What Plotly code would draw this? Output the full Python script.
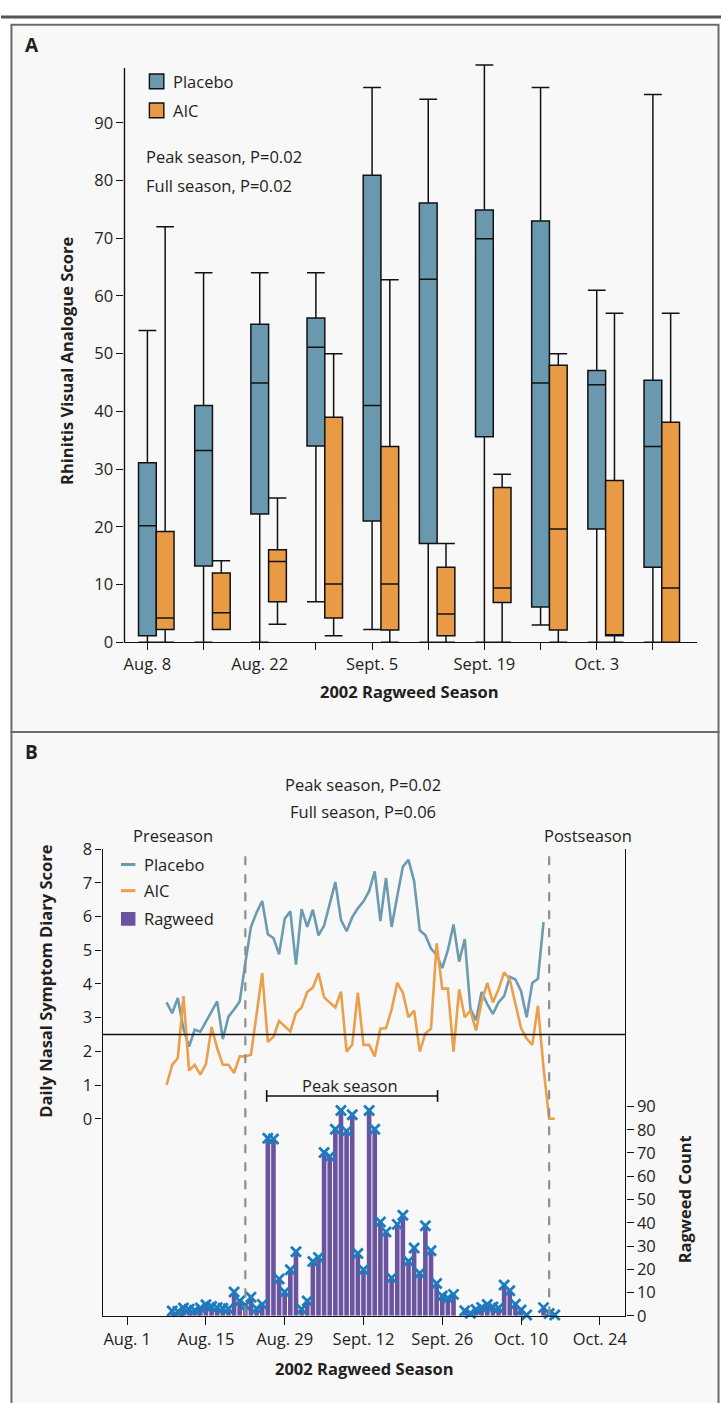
import plotly.graph_objects as go
import pandas as pd

W, H = 723, 1403
def X(px): return px / W
def Y(py): return 1 - py / H

FONT = "Open Sans"
TXT = "#231f20"

# ---------------- Panel A data (weekly boxes) ----------------
week_labels = ["Aug. 8", "", "Aug. 22", "", "Sept. 5", "", "Sept. 19", "", "Oct. 3", ""]
week_pos = [0, 1, 2, 3, 4, 5, 6, 7, 8, 9]
placebo_low = [0, 0, 0, 7, 2.2, 0, 0, 3, 0, 0]
placebo_q1 = [1.1, 13.2, 22.2, 34.0, 21.0, 17.1, 35.6, 6.1, 19.6, 13.0]
placebo_med = [20.2, 33.2, 44.9, 51.1, 41.0, 62.9, 69.9, 44.9, 44.6, 33.9]
placebo_q3 = [31.1, 41.0, 55.1, 56.2, 80.9, 76.1, 74.9, 73.0, 47.1, 45.4]
placebo_high = [54.0, 64.0, 64.0, 64.0, 96.1, 94.1, 100.0, 96.1, 61.0, 94.9]
aic_low = [0, 2.2, 3.1, 1.1, 0, 0, 0, 0, 0, 0]
aic_q1 = [2.2, 2.2, 7.0, 4.2, 2.1, 1.1, 6.9, 2.1, 1.1, 0.0]
aic_med = [4.2, 5.1, 14.0, 10.1, 10.1, 4.9, 9.4, 19.6, 1.1, 9.4]
aic_q3 = [19.2, 12.0, 16.0, 39.0, 33.9, 13.0, 26.8, 48.0, 28.0, 38.1]
aic_high = [72.0, 14.1, 25.0, 50.0, 62.8, 17.1, 29.1, 50.0, 57.0, 57.0]

# ---------------- Panel B data (daily) ----------------
placebo_start = "2002-08-08"
placebo_daily = [3.45, 3.13, 3.58, 2.67, 2.14, 2.64, 2.58, 2.87, 3.19, 3.48,
                 2.36, 3.03, 3.24, 3.48, 4.62, 5.69, 6.12, 6.46, 5.47, 5.36,
                 4.88, 5.93, 6.15, 4.57, 6.22, 5.69, 6.20, 5.44, 5.73, 6.40,
                 7.02, 5.90, 5.56, 5.98, 6.24, 6.45, 6.75, 7.34, 5.86, 7.14,
                 5.69, 6.60, 7.48, 7.68, 7.05, 5.59, 5.44, 5.05, 4.86, 4.47,
                 5.00, 5.76, 4.66, 5.33, 3.26, 2.92, 3.76, 3.40, 3.11, 3.45,
                 3.64, 4.21, 4.13, 3.79, 3.01, 4.03, 4.15, 5.83]
aic_start = "2002-08-08"
aic_daily = [1.00, 1.60, 1.80, 3.64, 1.43, 1.60, 1.31, 1.62, 2.72, 2.09,
             1.60, 1.60, 1.36, 1.85, 1.85, 1.90, 3.10, 4.32, 2.28, 2.43,
             2.90, 2.74, 2.59, 3.14, 3.30, 3.76, 3.89, 4.32, 3.60, 3.45,
             3.30, 3.77, 1.99, 2.20, 3.74, 2.19, 2.19, 1.85, 2.67, 2.69,
             3.24, 4.03, 3.74, 3.01, 3.21, 1.99, 2.53, 2.67, 5.20, 3.86,
             3.86, 1.99, 3.84, 3.01, 3.21, 2.62, 3.47, 4.03, 3.45, 3.84,
             4.34, 4.13, 3.45, 2.69, 2.38, 2.19, 3.35, 1.51, 0.0, 0.0]
ragweed_start = "2002-08-09"
ragweed_daily = [2.1, 1.8, 3.3, 2.8, 2.4, 3.3, 4.7, 4.0, 3.5, 3.2,
                 3.0, 10.2, 6.4, 4.5, 8.0, 3.1, 4.9, 76.3, 76.0, 15.8,
                 10.2, 19.8, 27.5, 2.8, 6.4, 23.3, 25.1, 70.2, 68.5, 80.2,
                 88.3, 79.4, 86.4, 26.8, 19.8, 88.3, 80.2, 40.3, 36.0, 16.3,
                 39.3, 43.2, 23.4, 29.1, 18.3, 38.7, 28.0, 13.9, 8.5, 7.6,
                 9.2, None, 2.2, 1.1, 2.7, 3.6, 4.8, 3.8, 3.3, 13.2,
                 10.8, 5.0, 2.5, 0.3, None, None, 3.5, 1.0, 0.3]
date_ticks = ["2002-08-01", "2002-08-15", "2002-08-29", "2002-09-12",
              "2002-09-26", "2002-10-10", "2002-10-24"]
date_tick_labels = ["Aug. 1", "Aug. 15", "Aug. 29", "Sept. 12", "Sept. 26", "Oct. 10", "Oct. 24"]
season_marks = ["2002-08-22", "2002-10-15"]
peak_season = ["2002-08-25 19:00", "2002-09-25 04:00"]

placebo_dates = pd.date_range(placebo_start, periods=len(placebo_daily), freq="D")
aic_dates = pd.date_range(aic_start, periods=len(aic_daily), freq="D")
rag_dates = pd.date_range(ragweed_start, periods=len(ragweed_daily), freq="D")

C_PLA = "#6a98ae"
C_AIC = "#e89a44"
C_PLA_LINE = "#6b9bb1"
C_AIC_LINE = "#eb9f4a"
C_RAG = "#6a54a0"
C_X = "#1b7cc0"

fig = go.Figure()

box_w = 0.316
fig.add_trace(go.Box(
    x=week_pos, q1=placebo_q1, median=placebo_med, q3=placebo_q3,
    lowerfence=placebo_low, upperfence=placebo_high,
    width=box_w, whiskerwidth=1, fillcolor=C_PLA,
    line=dict(color="#111111", width=1.5), boxpoints=False,
    xaxis="x", yaxis="y", showlegend=False, hoverinfo="skip"))
fig.add_trace(go.Box(
    x=[p + box_w for p in week_pos], q1=aic_q1, median=aic_med, q3=aic_q3,
    lowerfence=aic_low, upperfence=aic_high,
    width=box_w, whiskerwidth=1, fillcolor=C_AIC,
    line=dict(color="#111111", width=1.5), boxpoints=False,
    xaxis="x", yaxis="y", showlegend=False, hoverinfo="skip"))

fig.add_trace(go.Scatter(x=placebo_dates, y=placebo_daily, mode="lines",
                         line=dict(color=C_PLA_LINE, width=2.6),
                         xaxis="x2", yaxis="y2", showlegend=False))
fig.add_trace(go.Scatter(x=aic_dates, y=aic_daily, mode="lines",
                         line=dict(color=C_AIC_LINE, width=2.6),
                         xaxis="x2", yaxis="y2", showlegend=False))
fig.add_trace(go.Bar(x=rag_dates, y=ragweed_daily, width=0.82 * 86400000,
                     marker=dict(color=C_RAG, line=dict(width=0)),
                     xaxis="x2", yaxis="y3", showlegend=False))
fig.add_trace(go.Scatter(x=rag_dates, y=ragweed_daily, mode="markers",
                         marker=dict(symbol="x-thin", size=10,
                                     line=dict(color=C_X, width=2.8)),
                         xaxis="x2", yaxis="y3", showlegend=False, cliponaxis=False))

tickfont = dict(family=FONT, size=16.5, color=TXT)
axis_common = dict(showgrid=False, zeroline=False, ticks="outside",
                   tickcolor="#111111", linecolor="#111111", tickfont=tickfont)

fig.update_layout(
    width=W, height=H, autosize=False,
    margin=dict(l=0, r=0, t=0, b=0),
    paper_bgcolor="white", plot_bgcolor="rgba(0,0,0,0)",
    font=dict(family=FONT, color=TXT),
    barmode="overlay",
    xaxis=dict(domain=[X(124), X(699)], range=[-0.408, 9.787],
               tickvals=week_pos, ticktext=week_labels, showline=True,
               linewidth=1.4, ticklen=7, tickwidth=1.4, anchor="y",
               **axis_common),
    yaxis=dict(domain=[Y(640.7), Y(50)], range=[0, (640.7 - 50) / 5.867],
               tickvals=[0, 10, 20, 30, 40, 50, 60, 70, 80, 90], showline=False,
               ticklen=7, tickwidth=1.4, anchor="x", **axis_common),
    xaxis2=dict(domain=[X(102), X(627)], type="date",
                range=["2002-07-27 15:04", "2002-10-28 13:12"],
                tickvals=date_ticks, ticktext=date_tick_labels, showline=True,
                linewidth=1.4, ticklen=8, tickwidth=1.4, anchor="y2",
                **axis_common),
    yaxis2=dict(domain=[Y(1325.5), Y(851)], range=[-5.845, 8.0],
                tickvals=[0, 1, 2, 3, 4, 5, 6, 7, 8], showline=True,
                linewidth=1.4, ticklen=6, tickwidth=1.4, anchor="x2",
                **axis_common),
    yaxis3=dict(domain=[Y(1325.5), Y(851)], range=[0, 200.7], overlaying="y2",
                side="right", tickvals=[0, 10, 20, 30, 40, 50, 60, 70, 80, 90],
                showline=True, linewidth=1.4, ticklen=7, tickwidth=1.4,
                anchor="x2", **axis_common),
)

shapes = []
# top rule and panel frames
shapes.append(dict(type="line", xref="paper", yref="paper", x0=0, x1=1,
                   y0=Y(5), y1=Y(5), line=dict(color="#555555", width=3)))
shapes.append(dict(type="rect", xref="paper", yref="paper", x0=X(10.5), x1=X(720.5),
                   y0=Y(732), y1=Y(13), fillcolor="#f8f8f8",
                   line=dict(color="#6b6b6b", width=2), layer="below"))
shapes.append(dict(type="rect", xref="paper", yref="paper", x0=X(10.5), x1=X(720.5),
                   y0=Y(1420), y1=Y(732), fillcolor="#f8f8f8",
                   line=dict(color="#6b6b6b", width=2), layer="below"))
# panel A y-axis line
shapes.append(dict(type="line", xref="paper", yref="paper", x0=X(124), x1=X(124),
                   y0=Y(641), y1=Y(57), line=dict(color="#111111", width=1.4)))
# panel A legend squares
for yc, col in [(70.5, C_PLA), (100, C_AIC)]:
    shapes.append(dict(type="rect", xref="paper", yref="paper", x0=X(149), x1=X(163.5),
                       y0=Y(yc + 7.5), y1=Y(yc - 7.5), fillcolor=col,
                       line=dict(color="#111111", width=1.4)))
# panel B horizontal reference line at 2.5
shapes.append(dict(type="line", xref="paper", yref="y2", x0=X(102), x1=X(627),
                   y0=2.5, y1=2.5, line=dict(color="#111111", width=1.4)))
# dashed season boundaries
for d in season_marks:
    shapes.append(dict(type="line", xref="x2", yref="paper", x0=d, x1=d,
                       y0=Y(1325), y1=Y(850), line=dict(color="#8e8e8e", width=2.2, dash="dash")))
# peak season bracket
shapes.append(dict(type="line", xref="x2", yref="paper", x0=peak_season[0], x1=peak_season[1],
                   y0=Y(1102), y1=Y(1102), line=dict(color="#111111", width=1.4)))
for d in peak_season:
    shapes.append(dict(type="line", xref="x2", yref="paper", x0=d, x1=d,
                       y0=Y(1108), y1=Y(1096), line=dict(color="#111111", width=1.6)))
# panel B legend
shapes.append(dict(type="line", xref="paper", yref="paper", x0=X(120.5), x1=X(135),
                   y0=Y(866.7), y1=Y(866.7), line=dict(color=C_PLA_LINE, width=3)))
shapes.append(dict(type="line", xref="paper", yref="paper", x0=X(120.5), x1=X(135),
                   y0=Y(893.3), y1=Y(893.3), line=dict(color=C_AIC_LINE, width=3)))
shapes.append(dict(type="rect", xref="paper", yref="paper", x0=X(120.5), x1=X(135),
                   y0=Y(929), y1=Y(915), fillcolor=C_RAG, line=dict(width=0)))
fig.update_layout(shapes=shapes)

def ann(text, px, py, size=16.5, bold=False, xanchor="left", angle=0):
    t = f"<b>{text}</b>" if bold else text
    return dict(text=t, x=X(px), y=Y(py), xref="paper", yref="paper",
                xanchor=xanchor, yanchor="middle", showarrow=False,
                textangle=angle, font=dict(family=FONT, size=size, color=TXT))

anns = [
    ann("A", 22, 34, size=19, bold=True),
    ann("Placebo", 171, 70.5, size=16.5),
    ann("AIC", 171, 100, size=16.5),
    ann("Peak season, P=0.02", 144, 146.5),
    ann("Full season, P=0.02", 144, 176.5),
    ann("Rhinitis Visual Analogue Score", 65, 355, size=16.5, bold=True, xanchor="center", angle=-90),
    ann("2002 Ragweed Season", 410, 691, size=16.5, bold=True, xanchor="center"),
    ann("B", 22, 752, size=19, bold=True),
    ann("Peak season, P=0.02", 364, 785, xanchor="center"),
    ann("Full season, P=0.06", 364, 813, xanchor="center"),
    ann("Preseason", 173, 837, xanchor="center"),
    ann("Postseason", 589, 837, xanchor="center"),
    ann("Placebo", 142, 866.7),
    ann("AIC", 142, 893.3),
    ann("Ragweed", 142, 921.7),
    ann("Peak season", 350, 1091.5, xanchor="center"),
    ann("Daily Nasal Symptom Diary Score", 45, 985, size=16.5, bold=True, xanchor="center", angle=-90),
    ann("Ragweed Count", 686, 1207, size=16.5, bold=True, xanchor="center", angle=-90),
    ann("2002 Ragweed Season", 365, 1379, size=16.5, bold=True, xanchor="center"),
]
fig.update_layout(annotations=anns)

fig.write_html("out.html", config={"displayModeBar": False},
               post_script="document.body.style.margin='0px';document.body.style.overflow='hidden';")
